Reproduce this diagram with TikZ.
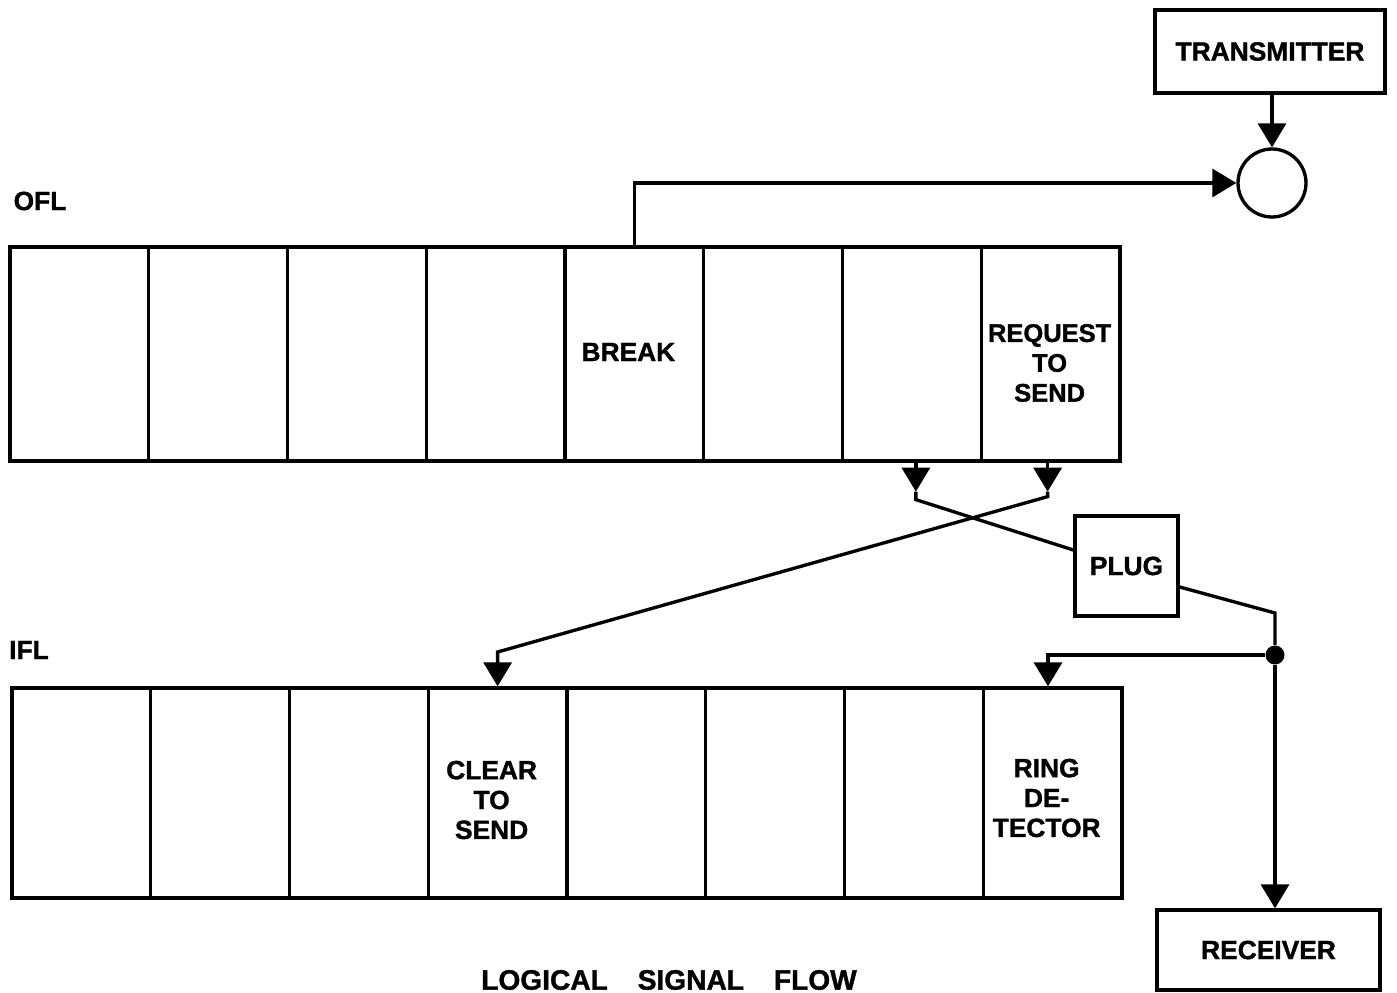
\documentclass[tikz,border=0pt]{standalone}
\usepackage{fontspec}
\setmainfont{Liberation Sans}[BoldFeatures={FakeBold=1.3}]
\usetikzlibrary{positioning,calc,arrows.meta}

\tikzset{
  txt/.style={font=\bfseries\fontsize{15}{17}\selectfont, align=center},
  cell/.style={draw, line width=1.9pt, minimum width=2.775cm, minimum height=4.28cm, inner sep=0pt},
  blk/.style={draw, line width=1.9pt, inner sep=0pt, txt},
  wire/.style={line width=1.9pt},
  sig/.style={wire, -{Triangle[width=0.56cm,length=0.48cm]}}
}

\begin{document}
\begin{tikzpicture}[x=0.02cm, y=-0.02cm]
    \useasboundingbox (0,0) rectangle (1397,993);

    % Output field (OFL)
    \node[txt] (ofl) at (40,201) {OFL};
    \foreach \i in {1,...,8}
        \node[cell] (ofl\i) at ({10+(\i-0.5)*138.75}, 354) {};
    \node[txt] (brk) at ($(ofl5)+(-6,-2)$) {BREAK};
    \node[txt, font=\bfseries\fontsize{14.5}{17}\selectfont] (rts) at ($(ofl8)+(-1,9)$) {REQUEST\\TO\\SEND};

    % Input field (IFL)
    \node[txt] (ifl) at (29,650) {IFL};
    \foreach \i in {1,...,8}
        \node[cell, minimum height=4.2cm] (ifl\i) at ({12+(\i-0.5)*138.75}, 793) {};
    \node[txt] (cts) at ($(ifl4)+(-6,7)$) {CLEAR\\TO\\SEND};
    \node[txt] (ring) at ($(ifl8)+(-6,5)$) {RING\\DE-\\TECTOR};

    % Transmitter, receiver and plug
    \node[blk, minimum width=4.6cm, minimum height=1.66cm] (tx) at (1270,51.5) {TRANSMITTER};
    \node[draw, circle, line width=1.9pt, minimum size=1.36cm, inner sep=0pt] (sum) at (1272,183) {};
    \node[blk, minimum width=2.06cm, minimum height=2cm] (plug) at (1126.5,566) {PLUG};
    \node[blk, minimum width=4.46cm, minimum height=1.6cm] (rx) at (1268.5,950) {RECEIVER};
    \node[circle, fill, minimum size=0.38cm, inner sep=0pt] (dot) at (1275,655) {};

    % Transmitter and break into the circle
    \draw[sig] (tx.south -| sum) -- (sum.north);
    \draw[sig] (ofl5.north) -- (ofl5.north |- sum) -- (sum.west);

    % Crossed outputs
    \coordinate (a7) at ($(ofl7.south)+(4,29)$);
    \coordinate (a8) at ($(ofl8.south)+(-3,29)$);
    \draw[sig] (ofl7.south -| a7) -- (a7);
    \draw[wire] (a7) -- ++(0,8) -- ($(plug.west)+(0,-16)$);
    \draw[sig] (ofl8.south -| a8) -- (a8);
    \draw[sig] (a8) -- ++(0,5) -- (ifl4.north |- 0,652) -- (ifl4.north);

    % Plug to receiver and ring detector
    \draw[wire] ($(plug.east)+(0,21)$) -- (dot |- 0,613) -- (dot);
    \draw[sig] (dot) -- (dot |- rx.north);
    \draw[sig] (dot) -- (1048,655) -- (1048,688 |- ifl8.north);

    % Caption
    \node[txt, font=\bfseries\fontsize{16}{18}\selectfont] (title) at (669,980)
        {LOGICAL\hspace{0.6cm}SIGNAL\hspace{0.6cm}FLOW};
\end{tikzpicture}
\end{document}
